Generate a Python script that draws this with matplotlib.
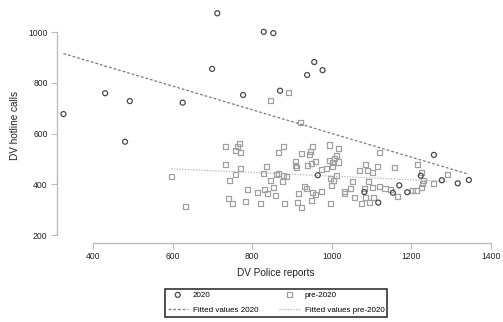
import numpy as np
import matplotlib
matplotlib.use("Agg")
import matplotlib.pyplot as plt

plt.rcParams["font.family"] = ["Liberation Sans", "DejaVu Sans"]

# 2020 observations (police reports, hotline calls)
police_2020 = [325, 430, 480, 492, 625, 699, 712, 777, 829, 853, 870, 938, 956,
               977, 1257, 965, 1082, 1117, 1154, 1170, 1190, 1224, 1277, 1317, 1345]
calls_2020 = [677, 759, 568, 728, 722, 855, 1074, 752, 1001, 996, 769, 831, 882,
              850, 516, 436, 370, 328, 367, 396, 369, 434, 416, 404, 417]

# pre-2020 observations
police_pre = [596, 632, 733, 743, 759, 771, 741, 751, 783, 788, 733, 757, 763, 767,
              770, 892, 845, 921, 878, 865, 924, 952, 947, 945, 994, 1017, 1011, 1121,
              835, 829, 867, 862, 887, 846, 877, 908, 910, 911, 938, 813, 831, 853,
              839, 859, 932, 937, 917, 822, 881, 914, 924, 1007, 994, 1002, 1016, 1001,
              987, 973, 960, 948, 1011, 997, 1004, 1000, 952, 960, 975, 950, 996, 1032,
              1031, 1046, 1052, 1058, 1074, 1096, 1084, 1106, 1103, 1082, 1069, 1084,
              1090, 1102, 1114, 1092, 1120, 1134, 1149, 1166, 1157, 1215, 1225, 1230,
              1228, 1225, 1212, 1204, 1257, 1292, 878]
calls_pre = [430, 311, 478, 417, 438, 461, 344, 326, 332, 381, 548, 533, 548, 560,
             525, 763, 731, 642, 551, 526, 522, 548, 528, 519, 555, 542, 515, 525,
             471, 444, 444, 440, 430, 415, 413, 491, 474, 465, 475, 366, 378, 386,
             363, 357, 390, 385, 362, 326, 323, 328, 308, 503, 493, 485, 488, 470,
             462, 457, 489, 483, 436, 422, 416, 394, 367, 359, 370, 336, 324, 373,
             362, 383, 412, 349, 324, 328, 349, 349, 389, 385, 456, 478, 456, 446,
             471, 411, 390, 385, 381, 352, 465, 479, 446, 417, 404, 389, 374, 374,
             405, 437, 433]

x_ticks = [400, 600, 800, 1000, 1200, 1400]
y_ticks = [200, 400, 600, 800, 1000]


def linear_fit(x, y):
    x = np.asarray(x, dtype=float)
    b, a = np.polyfit(x, np.asarray(y, dtype=float), 1)
    xs = np.array([x.min(), x.max()])
    return xs, a + b * xs


fig = plt.figure(figsize=(5.03, 3.22), dpi=100)
ax = fig.add_axes([0.1127, 0.2463, 0.8708, 0.7289])

h1 = ax.scatter(police_2020, calls_2020, s=13, marker="o", facecolors="none",
                edgecolors="#4a4a4a", linewidths=0.9, zorder=3)
h2 = ax.scatter(police_pre, calls_pre, s=13, marker="s", facecolors="none",
                edgecolors="#a0a0a0", linewidths=0.9, zorder=2)

fx, fy = linear_fit(police_2020, calls_2020)
l1, = ax.plot(fx, fy, color="#7a7a7a", linestyle=(0, (2.2, 1.6)), linewidth=0.9)
fx, fy = linear_fit(police_pre, calls_pre)
l2, = ax.plot(fx, fy, color="#b5b5b5", linestyle=(0, (1, 1.2)), linewidth=0.9)

ax.set_xlim(308, 1410)
ax.set_ylim(170, 1095)
ax.set_xticks(x_ticks)
ax.set_yticks(y_ticks)
ax.spines["top"].set_visible(False)
ax.spines["right"].set_visible(False)
ax.spines["left"].set_bounds(200, 1000)
ax.spines["bottom"].set_bounds(400, 1400)
for s in ["left", "bottom"]:
    ax.spines[s].set_color("#bdbdbd")
    ax.spines[s].set_linewidth(1.0)
ax.tick_params(axis="both", length=4, width=0.8, color="#bdbdbd",
               labelsize=6.2, pad=2.5, labelcolor="#222222")

ax.set_xlabel("DV Police reports", fontsize=7.2, color="#222222", labelpad=5)
ax.set_ylabel("DV hotline calls", fontsize=7.2, color="#222222", labelpad=6)

# column-major order so rows read: markers on top, fitted lines below
leg = fig.legend([h1, l1, h2, l2],
                 ["2020", "Fitted values 2020", "pre-2020", "Fitted values pre-2020"],
                 ncol=2, loc="center", bbox_to_anchor=(0.549, 0.0596),
                 fontsize=5.8, frameon=True, fancybox=False, edgecolor="black",
                 handlelength=2.5, columnspacing=2.6, labelspacing=0.95,
                 borderpad=0.35, handletextpad=0.65, borderaxespad=0)
leg.get_frame().set_linewidth(1.2)

fig.savefig("out.png", dpi=100)
